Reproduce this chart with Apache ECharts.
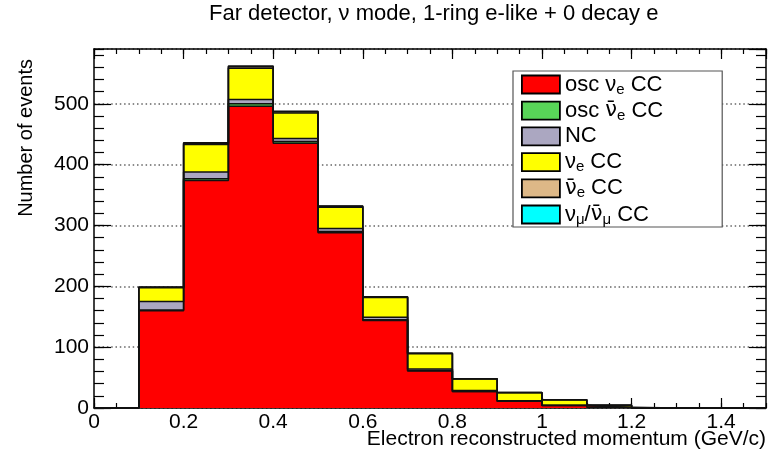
<!DOCTYPE html>
<html>
<head>
<meta charset="utf-8">
<script src="https://cdn.jsdelivr.net/npm/echarts@6/dist/echarts.min.js"></script>
<style>
  html, body { margin: 0; padding: 0; background: #fff; }
  #chart { width: 769px; height: 454px; }
</style>
</head>
<body>
<div id="chart"></div>
<script>
// Bin edges of the reconstructed electron momentum histogram (GeV/c)
const binEdges = [0, 0.1, 0.2, 0.3, 0.4, 0.5, 0.6, 0.7, 0.8, 0.9, 1.0, 1.1, 1.2, 1.3, 1.4, 1.5];

// Predicted events per bin for each component (stacked bottom to top)
const oscNueCC     = [0, 160, 374, 496, 435, 288, 144, 61, 27, 11, 4, 1, 0, 0, 0];
const oscNuebarCC  = [0, 1, 3, 4, 3, 2, 1, 0.5, 0.3, 0.1, 0.05, 0, 0, 0, 0];
const ncEvents     = [0, 14, 11, 7, 5, 5, 4, 2.5, 1.5, 1, 0.5, 0.2, 0, 0, 0];
const nueCC        = [0, 22.5, 45, 51.5, 42, 35, 32.5, 25.3, 18.8, 13.1, 9, 3.4, 0, 0, 0];
const nuebarCC     = [0, 1, 2, 2.5, 2, 1.5, 1, 0.5, 0.3, 0.2, 0.1, 0.05, 0, 0, 0];
const numuCC       = [0, 0.5, 0.8, 1, 0.8, 0.6, 0.4, 0.2, 0.1, 0.05, 0, 0, 0, 0, 0];

// Legend names (rich-text versions are built in the legend formatter)
const componentNames = ['osc νe CC', 'osc ν̄e CC', 'NC', 'νe CC', 'ν̄e CC', 'νμ/ν̄μ CC'];
const componentColors = ['#ff0000', '#58d558', '#aba7c1', '#ffff00', '#ddb887', '#00ffff'];
const componentValues = [oscNueCC, oscNuebarCC, ncEvents, nueCC, nuebarCC, numuCC];

const richNames = {
  'osc νe CC': 'osc ν{sub|e} CC',
  'osc ν̄e CC': 'osc {bar|ν̄}{sub|e} CC',
  'NC': 'NC',
  'νe CC': 'ν{sub|e} CC',
  'ν̄e CC': '{bar|ν̄}{sub|e} CC',
  'νμ/ν̄μ CC': 'ν{sub|μ}/{bar|ν̄}{sub|μ} CC'
};

const xTickLabels = ['0', '0.2', '0.4', '0.6', '0.8', '1', '1.2', '1.4'];
const yTickLabels = ['0', '100', '200', '300', '400', '500'];

// Cumulative stack heights, one array per layer
const cumulative = [];
componentValues.forEach((vals, k) => {
  cumulative.push(vals.map((v, i) => v + (k > 0 ? cumulative[k - 1][i] : 0)));
});

// Step outline points: one point at each bin's low edge, plus the last high edge
function stepPoints(vals) {
  const pts = vals.map((v, i) => [binEdges[i], v]);
  pts.push([binEdges[binEdges.length - 1], vals[vals.length - 1]]);
  return pts;
}

const yMax = Math.max(...cumulative[cumulative.length - 1]) * 1.05;

// Draw the full stack first, then each lower layer on top (THStack style)
const series = [];
for (let k = componentNames.length - 1; k >= 0; k--) {
  series.push({
    name: componentNames[k],
    type: 'line',
    step: 'end',
    symbol: 'none',
    silent: true,
    xAxisIndex: 0,
    yAxisIndex: 0,
    color: componentColors[k],
    itemStyle: { color: componentColors[k], borderColor: '#000', borderWidth: 1.5 },
    lineStyle: { color: '#111', width: 1.5 },
    areaStyle: { color: componentColors[k], opacity: 1 },
    data: stepPoints(cumulative[k]),
    z: 3
  });
}

const fontFamily = '"Liberation Sans", Arial, Helvetica, sans-serif';
const axisLineStyle = { color: '#000', width: 1.5 };
const tickLineStyle = { color: '#000', width: 1.2 };

function xAxisDef(position, interval, tickLen, main) {
  return {
    type: 'value', position, min: 0, max: 1.5, interval,
    axisLine: { show: main, onZero: false, lineStyle: axisLineStyle },
    axisTick: { show: true, inside: true, length: tickLen, lineStyle: tickLineStyle },
    axisLabel: {
      show: main && position === 'bottom',
      showMaxLabel: false,
      margin: 4,
      color: '#000',
      fontSize: 21,
      fontFamily,
      formatter: (v) => {
        const idx = Math.round(v / 0.2);
        return Math.abs(idx * 0.2 - v) < 1e-6 ? (xTickLabels[idx] || '') : '';
      }
    },
    splitLine: { show: false }
  };
}

function yAxisDef(position, interval, tickLen, main) {
  return {
    type: 'value', position, min: 0, max: yMax, interval,
    axisLine: { show: main, onZero: false, lineStyle: axisLineStyle },
    axisTick: { show: true, inside: true, length: tickLen, lineStyle: tickLineStyle },
    axisLabel: {
      show: main && position === 'left',
      showMaxLabel: false,
      margin: 5,
      color: '#000',
      fontSize: 21,
      fontFamily,
      formatter: (v) => {
        const idx = Math.round(v / 100);
        return Math.abs(idx * 100 - v) < 1e-6 ? (yTickLabels[idx] || '') : '';
      }
    },
    splitLine: {
      show: main && position === 'left',
      lineStyle: { color: '#666', width: 1.5, type: [1.5, 2.8] }
    }
  };
}

const xAxes = [
  xAxisDef('bottom', 0.2, 10, true),
  xAxisDef('bottom', 0.05, 5, false),
  xAxisDef('top', 0.2, 10, true),
  xAxisDef('top', 0.05, 5, false)
];
Object.assign(xAxes[0], {
  name: 'Electron reconstructed momentum (GeV/c)',
  nameLocation: 'end',
  nameGap: 0,
  nameMoveOverlap: false,
  nameTextStyle: {
    fontSize: 21, fontFamily, color: '#000',
    align: 'right', verticalAlign: 'top', padding: [21, 0, 0, 0]
  }
});

const yAxes = [
  yAxisDef('left', 100, 17, true),
  yAxisDef('left', 20, 10, false),
  yAxisDef('right', 100, 17, true),
  yAxisDef('right', 20, 10, false)
];
Object.assign(yAxes[0], {
  name: 'Number of events',
  nameLocation: 'end',
  nameGap: -10,
  nameRotate: 90,
  nameMoveOverlap: false,
  nameTextStyle: {
    fontSize: 20, fontFamily, color: '#000',
    align: 'right', verticalAlign: 'bottom', padding: [0, 0, 58, 0]
  }
});

const chart = echarts.init(document.getElementById('chart'), null, { renderer: 'canvas' });
chart.setOption({
  animation: false,
  backgroundColor: '#fff',
  title: {
    text: 'Far detector, ν mode, 1-ring e-like + 0 decay e',
    left: 204,
    top: 0,
    padding: [3, 5],
    textStyle: { fontSize: 22, fontWeight: 'normal', color: '#000', fontFamily }
  },
  legend: {
    data: componentNames,
    orient: 'vertical',
    left: 513,
    top: 71,
    padding: [1, 59, 0, 8],
    itemGap: 1.2,
    itemWidth: 38,
    itemHeight: 18,
    icon: 'rect',
    selectedMode: false,
    backgroundColor: '#fff',
    borderColor: '#555',
    borderWidth: 1.2,
    itemStyle: { borderColor: '#000', borderWidth: 1.8 },
    formatter: (name) => richNames[name] || name,
    textStyle: {
      fontSize: 22, fontFamily, color: '#000', lineHeight: 24,
      rich: {
        sub: { fontSize: 15, fontFamily, color: '#000', lineHeight: 24, padding: [10, 0, 0, 0] },
        bar: { fontSize: 21, fontFamily: '"DejaVu Sans", sans-serif', color: '#000', lineHeight: 24 }
      }
    }
  },
  grid: { left: 94, right: 3, top: 49, bottom: 46, containLabel: false, outerBoundsMode: 'none' },
  xAxis: xAxes,
  yAxis: yAxes,
  series
});
</script>
</body>
</html>
